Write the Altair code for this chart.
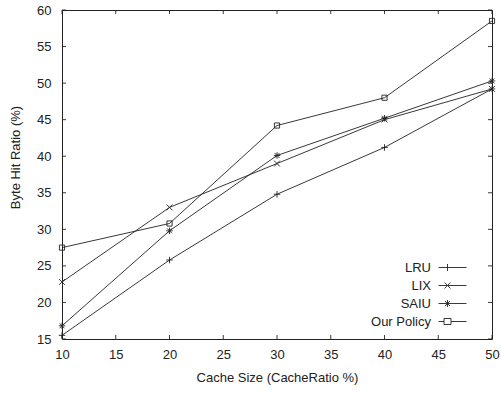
import altair as alt
import pandas as pd

cache_sizes = [10, 20, 30, 40, 50]
series_names = ["LRU", "LIX", "SAIU", "Our Policy"]
lru = [15.5, 25.8, 34.8, 41.2, 49.2]
lix = [22.8, 33.0, 39.0, 45.0, 49.2]
saiu = [16.8, 29.8, 40.1, 45.2, 50.3]
our_policy = [27.5, 30.8, 44.2, 48.0, 58.5]

x_ticks = [10, 15, 20, 25, 30, 35, 40, 45, 50]
y_ticks = [15, 20, 25, 30, 35, 40, 45, 50, 55, 60]

rows = []
for name, vals in zip(series_names, [lru, lix, saiu, our_policy]):
    for c, v in zip(cache_sizes, vals):
        rows.append({"cache": c, "ratio": v, "series": name})
df = pd.DataFrame(rows)
xt = pd.DataFrame({"xt": x_ticks})
yt = pd.DataFrame({"yt": y_ticks})

W, H = 430, 329
INK = "#222222"
FONT = "Liberation Sans"
FS = 13

# marker-only shapes (unit coords scaled by sqrt(size)/2)
marker_paths = [
    "M-1,0L1,0M0,-1L0,1",
    "M-0.9,-0.9L0.9,0.9M-0.9,0.9L0.9,-0.9",
    "M-1,0L1,0M0,-1L0,1M-0.75,-0.75L0.75,0.75M-0.75,0.75L0.75,-0.75",
    "M-0.8,-0.8L0.8,-0.8L0.8,0.8L-0.8,0.8Z",
]
# legend shapes: line segment + marker, drawn to the right of the label
legend_paths = [
    "M2.8,0L8.4,0M4.6,-0.7L4.6,0.7",
    "M2.8,0L8.4,0M4.0,-0.6L5.2,0.6M4.0,0.6L5.2,-0.6",
    "M2.8,0L8.4,0M4.6,-0.7L4.6,0.7M4.1,-0.5L5.1,0.5M4.1,0.5L5.1,-0.5",
    "M2.8,0L3.9,0M5.3,0L8.4,0M3.9,-0.6L5.3,-0.6L5.3,0.6L3.9,0.6Z",
]

x_scale = alt.Scale(domain=[10, 50], nice=False, zero=False)
y_scale = alt.Scale(domain=[15, 60], nice=False, zero=False)

x_axis = alt.Axis(values=x_ticks, tickSize=0, domain=False, grid=False,
                  labelOverlap=False, labelFlush=False,
                  labelPadding=9, titlePadding=10, labelFontSize=FS,
                  titleFontSize=FS, labelColor=INK, titleColor=INK,
                  labelFont=FONT, titleFont=FONT, titleFontWeight="normal")
y_axis = alt.Axis(values=y_ticks, tickSize=0, domain=False, grid=False,
                  labelOverlap=False, labelFlush=False,
                  labelPadding=11, labelFontSize=FS,
                  titleFontSize=FS, labelColor=INK, titleColor=INK,
                  titleX=-47, titleY=147, titleBaseline="middle",
                  labelFont=FONT, titleFont=FONT, titleFontWeight="normal")

x_enc = alt.X("cache:Q", scale=x_scale, title="Cache Size (CacheRatio %)", axis=x_axis)
y_enc = alt.Y("ratio:Q", scale=y_scale, title="Byte Hit Ratio (%)", axis=y_axis)

lines = alt.Chart(df).mark_line(color=INK, strokeWidth=0.9).encode(
    x=x_enc, y=y_enc, detail="series:N"
)

points = alt.Chart(df).mark_point(filled=False, color=INK, strokeWidth=0.9, size=42, opacity=1).encode(
    x=x_enc, y=y_enc,
    shape=alt.Shape("series:N", scale=alt.Scale(domain=series_names, range=marker_paths), legend=None),
)

legend_layer = alt.Chart(df).transform_filter("false").mark_point(
    filled=False, color=INK, strokeWidth=0.9, opacity=1
).encode(
    x=x_enc, y=y_enc,
    shape=alt.Shape("series:N", scale=alt.Scale(domain=series_names, range=legend_paths),
                    sort=series_names,
                    legend=alt.Legend(title=None, orient="none", legendX=356, legendY=251,
                                      padding=0, symbolSize=100, symbolStrokeWidth=0.9,
                                      symbolStrokeColor=INK, symbolFillColor="transparent",
                                      labelAlign="right", labelOffset=0,
                                      labelFontSize=FS, labelFont=FONT, labelColor=INK,
                                      rowPadding=4)),
)

tick_len = 4
bottom_ticks = alt.Chart(xt).mark_rule(color=INK, strokeWidth=0.9).encode(
    x=alt.X("xt:Q", scale=x_scale, title="Cache Size (CacheRatio %)", axis=x_axis),
    y=alt.value(H), y2=alt.value(H - tick_len))
top_ticks = alt.Chart(xt).mark_rule(color=INK, strokeWidth=0.9).encode(
    x=alt.X("xt:Q", scale=x_scale, title="Cache Size (CacheRatio %)", axis=x_axis),
    y=alt.value(0), y2=alt.value(tick_len))
left_ticks = alt.Chart(yt).mark_rule(color=INK, strokeWidth=0.9).encode(
    y=alt.Y("yt:Q", scale=y_scale, title="Byte Hit Ratio (%)", axis=y_axis),
    x=alt.value(0), x2=alt.value(tick_len))
right_ticks = alt.Chart(yt).mark_rule(color=INK, strokeWidth=0.9).encode(
    y=alt.Y("yt:Q", scale=y_scale, title="Byte Hit Ratio (%)", axis=y_axis),
    x=alt.value(W), x2=alt.value(W - tick_len))

chart = alt.layer(
    lines, points, legend_layer, bottom_ticks, top_ticks, left_ticks, right_ticks
).resolve_scale(shape="independent").properties(
    width=W, height=H,
    autosize=alt.AutoSizeParams(type="none"),
    padding={"left": 62, "top": 10, "right": 9, "bottom": 54},
    background="white",
).configure_view(stroke=INK, strokeWidth=1).configure_axis(
    labelOverlap=False, labelFlush=False
)

chart.save("out.html", embed_options={"renderer": "svg", "actions": False})
